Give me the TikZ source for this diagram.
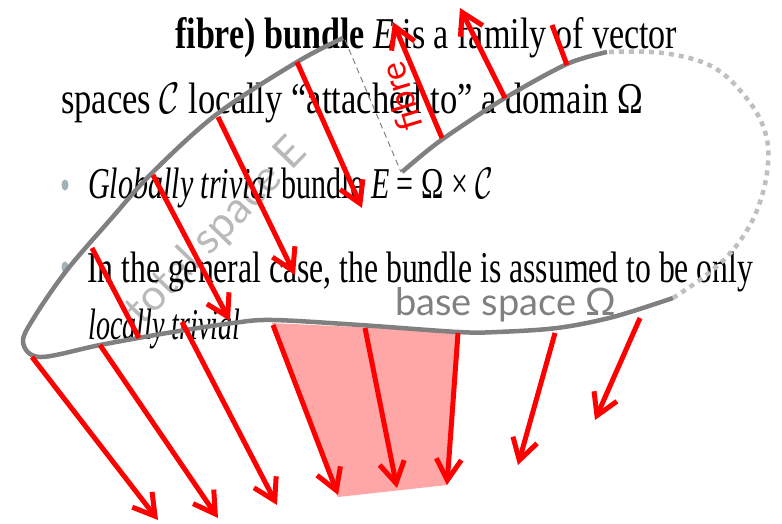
\documentclass[tikz,border=0pt]{standalone}
\usepackage{fontspec}
\usepackage{graphicx}
\setmainfont{Liberation Serif}
\newfontfamily\labelfont{Lato}
\usetikzlibrary{arrows.meta}

\definecolor{bulletgray}{RGB}{160,178,184}
% squeeze a slide line to the width it has on the slide
\newcommand{\fitline}[2]{\resizebox{#1}{\height}{#2}}
\newcommand{\calC}{{\fontsize{24.88}{28}\selectfont\scalebox{1.77}{$\mathcal{C}$}}}

\begin{document}
\begin{tikzpicture}[
    x=1pt, y=-1pt,
    every node/.style={inner sep=0pt},
    slide/.style={font=\fontsize{44}{50}\selectfont, anchor=base west},
    tag/.style={font=\labelfont\fontsize{38}{44}\selectfont},
    edge/.style={gray, line width=4.5pt},
    fib/.style={red, line width=5pt},
    fibarrow/.style={fib, -{Straight Barb[length=21pt,width=25pt]}}
]
\useasboundingbox (0,0) rectangle (782,523);

% --- Pink patch below the base ---
\fill[red!35] (272,323) -- (458,332) -- (447,485) -- (338,497) -- cycle;

% --- Space labels (faint, behind the slide text) ---
\node[tag, gray!55, rotate=46, font=\labelfont\fontsize{43}{48}\selectfont] (total) at (217,232) {total space E};
\node[tag, gray, anchor=base west] (base) at (395,315) {base space Ω};

% --- Slide text ---
\node[slide] (line1) at (175,48) {\fitline{502pt}{\textbf{fibre) bundle} \textit{E} is a family of vector}};
\node[slide] (line2) at (61,113) {\fitline{582pt}{spaces \calC\ locally “attached to” a domain Ω}};
\node[slide] (line3) at (88,198) {\fitline{405pt}{\textit{Globally trivial} bundle \textit{E} = Ω × \calC}};
\node[slide] (line4) at (87,282) {\fitline{666pt}{In the general case, the bundle is assumed to be only}};
\node[slide] (line5) at (88,339) {\fitline{152pt}{\textit{locally trivial}}};
\fill[bulletgray] (65,185) ellipse (3.5 and 5.5);
\fill[bulletgray] (65,267) ellipse (3.5 and 5.5);

% --- Total space: outline, inner edge and a fibre ---
\draw[edge] plot[smooth, tension=0.55] coordinates {(343,38) (297,62) (217,114) (153,172)
    (110,220) (67,270) (35,316) (23,342) (40,357) (100,345) (167,333) (233,323)
    (273,320) (360,325) (458,332) (497,332) (557,328) (613,317) (673,298)};
\draw[gray!50, line width=4.5pt, dash pattern=on 5pt off 5pt] plot[smooth, tension=0.6]
    coordinates {(673,298) (705,276) (733,250) (755,215) (767,173) (766,135)
    (748,100) (713,67) (663,53) (607,52)};
\draw[edge] plot[smooth] coordinates {(402,172) (440,141) (505,98) (567,64) (607,52)};
\draw[gray, line width=1pt, dash pattern=on 6pt off 4pt] (345,40) -- (401,172);

% --- Fibres above the base ---
\draw[fibarrow] (297,62) -- (362,208);
\draw[fibarrow] (218,117) -- (295,275);
\draw[fibarrow] (153,175) -- (230,321);
\draw[fib] (92,248) -- (139,338);
\draw[fibarrow] (442,138) -- (393,22);
\draw[fibarrow] (505,98) -- (460,8);
\draw[fib] (567,65) -- (552,25);
\node[font=\labelfont\fontsize{35}{40}\selectfont, red, rotate=107] (fibre) at (401,97) {fibre};

% --- Fibres below the base ---
\draw[fibarrow] (32,357) -- (158,520);
\draw[fibarrow] (100,345) -- (218,518);
\draw[fibarrow] (182,322) -- (277,505);
\draw[fibarrow] (273,325) -- (338,495);
\draw[fibarrow] (365,328) -- (397,488);
\draw[fibarrow] (458,333) -- (447,485);
\draw[fibarrow] (555,333) -- (518,465);
\draw[fibarrow] (640,318) -- (595,420);

\end{tikzpicture}
\end{document}
